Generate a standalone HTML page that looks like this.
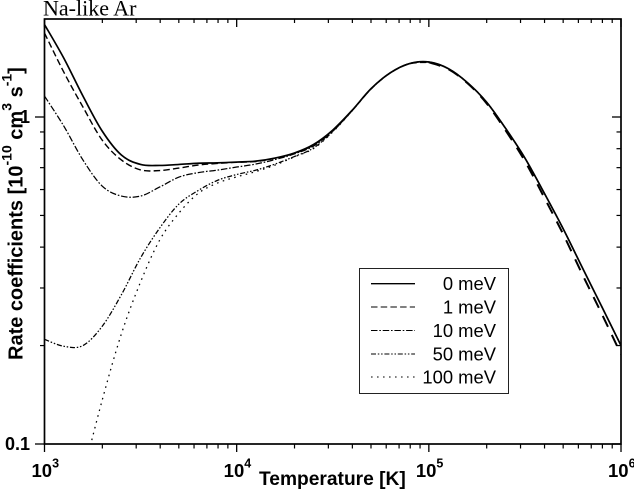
<!DOCTYPE html>
<html lang="en">
<head>
<meta charset="utf-8">
<title>Na-like Ar rate coefficients</title>
<style>
html,body{margin:0;padding:0;background:#fff;width:634px;height:489px;overflow:hidden}
svg{display:block;overflow:hidden}
text{font-family:"Liberation Sans",Arial,sans-serif;fill:#000}
.bold{font-weight:700}
</style>
</head>
<body>
<svg id="chart" width="634" height="489" viewBox="0 0 634 489" xmlns="http://www.w3.org/2000/svg">
  <defs><clipPath id="plot-clip"><rect x="44.5" y="19" width="576.5" height="425"/></clipPath></defs>
  <text x="43" y="15.5" style="font-family:'Liberation Serif',serif;font-size:22px">Na-like Ar</text>
  <g id="curves" clip-path="url(#plot-clip)"></g>
  <g id="ticks"></g>
  <rect x="44.5" y="19" width="576.5" height="425" fill="none" stroke="#000" stroke-width="1.7"/>
  <g id="tick-labels"></g>
  <text class="bold" x="259" y="485" font-size="19.2">Temperature [K]</text>
  <text class="bold" transform="rotate(-90 22.5 360)" x="22.5" y="360" font-size="20">Rate coefficients [10<tspan font-size="14" dy="-11">-10</tspan><tspan dy="11"> cm</tspan><tspan font-size="14" dy="-11">3</tspan><tspan dy="11"> s</tspan><tspan font-size="14" dy="-11">-1</tspan><tspan dy="11">]</tspan></text>
  <g id="legend">
    <rect x="359.5" y="268.5" width="149" height="125" fill="#fff" stroke="#222" stroke-width="1"/>
  </g>
</svg>
<script>
// Temperature grid, log10(T [K])
const logTemperature = [3.0,3.1,3.2,3.3,3.4,3.5,3.6,3.7,3.8,3.9,4.0,4.1,4.2,4.3,4.4,4.5,4.6,4.7,4.8,4.9,5.0,5.1,5.2,5.3,5.4,5.5,5.6,5.7,5.8,5.9,6.0];
// Rate coefficients in 1e-10 cm3/s (null = off the chart)
const rate0meV = [1.918,1.515,1.159,0.906,0.765,0.716,0.711,0.716,0.722,0.724,0.728,0.733,0.749,0.776,0.824,0.912,1.047,1.222,1.366,1.457,1.473,1.407,1.275,1.111,0.922,0.749,0.586,0.454,0.345,0.263,0.200];
const rate1meV = [1.806,1.373,1.073,0.850,0.739,0.689,0.686,0.698,0.713,0.721,0.727,0.731,0.748,0.774,0.821,0.909,1.045,1.220,1.364,1.455,1.470,1.402,1.270,1.102,0.909,0.733,0.568,0.437,0.329,0.250,0.188];
const rate10meV = [1.159,0.939,0.739,0.615,0.573,0.573,0.611,0.655,0.676,0.688,0.703,0.718,0.741,0.771,0.815,0.906,1.045,1.221,1.365,1.457,1.473,1.407,1.275,1.111,0.922,0.749,0.586,0.454,0.345,0.263,0.200];
const rate50meV = [0.209,0.199,0.200,0.229,0.286,0.371,0.458,0.542,0.596,0.640,0.667,0.688,0.718,0.757,0.804,0.903,1.044,1.220,1.365,1.457,1.473,1.407,1.275,1.111,0.922,0.749,0.586,0.454,0.345,0.263,0.200];
const rate100meV = [null,null,0.0804,0.136,0.217,0.313,0.421,0.509,0.584,0.628,0.656,0.681,0.713,0.755,0.801,0.900,1.043,1.219,1.365,1.457,1.473,1.407,1.275,1.111,0.922,0.749,0.586,0.454,0.345,0.263,0.200];
const seriesNames = ["0 meV","1 meV","10 meV","50 meV","100 meV"];
const xDecades = [3,4,5,6];
const xMinorMultiples = [2,3,4,5,6,7,8,9];
const yMajorValues = [0.1,1];
const yMajorLabels = ["0.1","1"];
const yMinorValues = [0.2,0.3,0.4,0.5,0.6,0.7,0.8,0.9];

const allRates = [rate0meV,rate1meV,rate10meV,rate50meV,rate100meV];
const dashStyles = ["","6.5 3.2","6.5 1.8 1.6 1.8","5 1.8 1.5 1.8 1.5 1.8","1.6 4.4"];
const NS = "http://www.w3.org/2000/svg";
const xScale = function(logT){ return 44.5 + (logT - 3) * 192.17; };
const yScale = function(v){ return 117 - Math.log10(v) * 327; };

function make(tag,parent){
  const el = document.createElementNS(NS,tag);
  parent.appendChild(el);
  return el;
}
function smoothPath(xs,ys){
  let d = "M" + xs[0].toFixed(2) + " " + ys[0].toFixed(2);
  const n = xs.length;
  for(let i=0;i<n-1;i++){
    const i0=Math.max(0,i-1), i3=Math.min(n-1,i+2);
    const c1x=xs[i]+(xs[i+1]-xs[i0])/6, c1y=ys[i]+(ys[i+1]-ys[i0])/6;
    const c2x=xs[i+1]-(xs[i3]-xs[i])/6, c2y=ys[i+1]-(ys[i3]-ys[i])/6;
    d += "C"+c1x.toFixed(2)+" "+c1y.toFixed(2)+" "+c2x.toFixed(2)+" "+c2y.toFixed(2)+" "+xs[i+1].toFixed(2)+" "+ys[i+1].toFixed(2);
  }
  return d;
}

const curves = document.getElementById("curves");
const legend = document.getElementById("legend");
const legendRowY = [283.7,307,330.5,354,377];
const splitIndex = logTemperature.indexOf(5.0);
allRates.forEach(function(values,s){
  const xs = [];
  const ys = [];
  values.forEach(function(v,i){
    if(v===null) return;
    xs.push(xScale(logTemperature[i]));
    ys.push(yScale(v));
  });
  const p = make("path",curves);
  
  
  if(s===1){
    p.setAttribute("d",smoothPath(xs.slice(0,splitIndex+1),ys.slice(0,splitIndex+1)));
  } else {
    p.setAttribute("d",smoothPath(xs,ys));
  }
  p.setAttribute("fill","none");
  p.setAttribute("stroke","#000");
  p.setAttribute("stroke-width",s===0?"1.7":(s===1?"1.4":"1.25"));
  if(dashStyles[s]) p.setAttribute("stroke-dasharray",dashStyles[s]);
  if(s===1){
    const hot = make("path",curves);
    
    
    hot.setAttribute("d",smoothPath(xs.slice(splitIndex),ys.slice(splitIndex)));
    hot.setAttribute("fill","none");
    hot.setAttribute("stroke","#000");
    hot.setAttribute("stroke-width","2");
    hot.setAttribute("stroke-dasharray","12 9");
  }

  const l = make("line",legend);
  
  
  l.setAttribute("x1","371");
  l.setAttribute("x2","415");
  l.setAttribute("y1",legendRowY[s]);
  l.setAttribute("y2",legendRowY[s]);
  l.setAttribute("stroke","#000");
  l.setAttribute("stroke-width",s===0?"1.4":"1.1");
  if(dashStyles[s]) l.setAttribute("stroke-dasharray",dashStyles[s]);

  const t = make("text",legend);
  
  
  t.setAttribute("x","496");
  t.setAttribute("y",legendRowY[s]+6.5);
  t.setAttribute("text-anchor","end");
  t.setAttribute("font-size","18.4");
  t.textContent = seriesNames[s];
});

const ticks = document.getElementById("ticks");
function tick(x1,y1,x2,y2,w){
  const l = make("line",ticks);
  
  
  l.setAttribute("x1",x1);
  l.setAttribute("y1",y1);
  l.setAttribute("x2",x2);
  l.setAttribute("y2",y2);
  l.setAttribute("stroke","#000");
  l.setAttribute("stroke-width",w);
}
const labels = document.getElementById("tick-labels");
xDecades.forEach(function(dec,i){
  const x = xScale(dec);
  tick(x,444,x,452,1.3);
  tick(x,19,x,27,1.3);
  const t = make("text",labels);
  
  
  t.setAttribute("class","bold");
  t.setAttribute("x",x-13);
  t.setAttribute("y","477");
  t.setAttribute("font-size","18.5");
  t.textContent = "10";
  const e = make("tspan",t);
  e.setAttribute("font-size","12.5");
  e.setAttribute("dy","-9.5");
  e.textContent = String(dec);
  if(i<xDecades.length-1){
    xMinorMultiples.forEach(function(m){
      const mx = xScale(dec+Math.log10(m));
      tick(mx,444,mx,448.5,1.2);
      tick(mx,19,mx,23,1.2);
    });
  }
});
yMajorValues.forEach(function(v,i){
  const y = yScale(v);
  tick(35,y,44.5,y,1.3);
  tick(612,y,621,y,1.3);
  const t = make("text",labels);
  
  
  t.setAttribute("class","bold");
  t.setAttribute("x","30");
  t.setAttribute("y",y+6);
  t.setAttribute("text-anchor","end");
  t.setAttribute("font-size","18");
  t.textContent = yMajorLabels[i];
});
yMinorValues.forEach(function(v){
  const y = yScale(v);
  tick(40,y,44.5,y,1.2);
  tick(616.5,y,621,y,1.2);
});
</script>
</body>
</html>
